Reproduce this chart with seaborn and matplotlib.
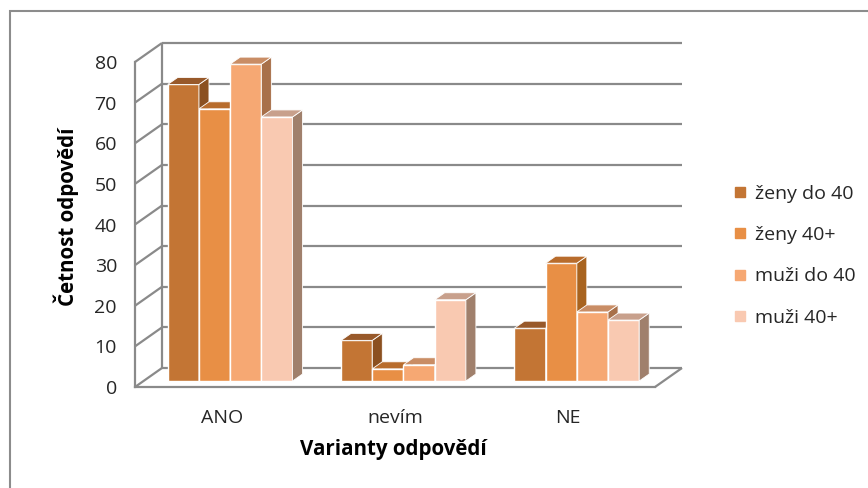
import numpy as np
import pandas as pd
import matplotlib
matplotlib.use("Agg")
import matplotlib.pyplot as plt
import seaborn as sns
from matplotlib.patches import Polygon, Rectangle
from matplotlib.lines import Line2D

# ==========================================
# Data
# ==========================================
categories = ["ANO", "nevím", "NE"]
groups = ["ženy do 40", "ženy 40+", "muži do 40", "muži 40+"]
zeny_do_40 = [73, 10, 13]
zeny_40_plus = [67, 3, 29]
muzi_do_40 = [78, 4, 17]
muzi_40_plus = [65, 20, 15]
y_ticks = [0, 10, 20, 30, 40, 50, 60, 70, 80]

palette = ["#C37534", "#E88F45", "#F6A873", "#F9C9B1"]
side_cols = ["#8B5020", "#A8631F", "#A8704A", "#A0806C"]
top_cols = ["#98592A", "#B86C2C", "#C98D65", "#C8A08C"]
grid_col = "#8a8a8a"
text_col = "#262626"

series = [zeny_do_40, zeny_40_plus, muzi_do_40, muzi_40_plus]
df = pd.DataFrame({
    "odpoved": categories * len(groups),
    "skupina": [g for g in groups for _ in categories],
    "cetnost": [v for s in series for v in s],
})

sns.set_theme(style="white")
plt.rcParams["font.family"] = ["Open Sans", "DejaVu Sans"]

W, H = 868, 488
fig = plt.figure(figsize=(W / 100, H / 100), dpi=100)
ax = fig.add_axes([135 / W, 1 - 387 / H, 520 / W, 325 / H])

sns.barplot(data=df, x="odpoved", y="cetnost", hue="skupina", order=categories,
            hue_order=groups, palette=palette, saturation=1, width=0.72,
            edgecolor="white", linewidth=1.0, legend=False, ax=ax)

ax.set_xlim(-0.5, 2.5)
ax.set_ylim(0, 80)
ax.set_yticks(y_ticks)

# pixel -> data conversions for the fake 3D depth
ppx = 520 / 3.0
ppy = 325 / 80.0
sx, sy = 8.5 / ppx, 6 / ppy      # bars sit a bit behind the front plane
dx, dy = 10 / ppx, 7 / ppy       # bar depth
bx, by = 27 / ppx, 19 / ppy      # back wall offset

# --- walls and gridlines ---
kw = dict(color=grid_col, lw=1.6, clip_on=False, zorder=1, solid_capstyle="butt")
for v in y_ticks:
    ax.plot([-0.5 + bx, 2.5 + bx], [v + by, v + by], **kw)
    ax.plot([-0.5, -0.5 + bx], [v, v + by], **kw)
ax.plot([-0.5 + bx, -0.5 + bx], [by, 80 + by], **kw)
ax.plot([2.5, 2.5 + bx], [0, by], **kw)

# --- 3D bars: shift fronts, add side and top faces ---
bars = sorted(ax.patches, key=lambda p: p.get_x())
n_cat = len(categories)
for i, p in enumerate(bars):
    hue_idx = ax.patches.index(p) // n_cat
    x, w, h = p.get_x(), p.get_width(), p.get_height()
    p.set_x(x + sx)
    p.set_y(sy)
    p.set_clip_on(False)
    p.set_zorder(3 + 3 * i)
    x0 = x + sx
    side = Polygon([(x0 + w, sy), (x0 + w + dx, sy + dy), (x0 + w + dx, sy + h + dy), (x0 + w, sy + h)],
                   closed=True, facecolor=side_cols[hue_idx], edgecolor="white", lw=0.6,
                   clip_on=False, zorder=3 + 3 * i + 1)
    top = Polygon([(x0, sy + h), (x0 + dx, sy + h + dy), (x0 + w + dx, sy + h + dy), (x0 + w, sy + h)],
                  closed=True, facecolor=top_cols[hue_idx], edgecolor="white", lw=0.6,
                  clip_on=False, zorder=3 + 3 * i + 2)
    ax.add_patch(side)
    ax.add_patch(top)

# --- axes styling ---
for s in ["top", "right"]:
    ax.spines[s].set_visible(False)
for s in ["left", "bottom"]:
    ax.spines[s].set_color(grid_col)
    ax.spines[s].set_linewidth(1.6)
ax.tick_params(axis="y", direction="out", length=6, width=1.6, color=grid_col,
               labelsize=14, pad=7, labelcolor=text_col)
ax.tick_params(axis="x", length=0, labelsize=14, pad=16, labelcolor=text_col)

ax.set_xlabel("Varianty odpovědí", fontsize=14.8, fontweight="bold", color="black")
ax.set_ylabel("Četnost odpovědí", fontsize=14.8, fontweight="bold", color="black")
ax.xaxis.set_label_coords(0.496, -0.16)
ax.yaxis.set_label_coords(-0.108, 0.525)

# --- legend ---
handles = [Line2D([0], [0], marker="s", linestyle="none", markersize=7.5,
                  markerfacecolor=c, markeredgecolor=c) for c in palette]
leg = fig.legend(handles, groups, loc="upper left", bbox_to_anchor=(724 / W, 1 - 177 / H),
                 frameon=False, fontsize=14, labelspacing=1.2, handlelength=0.8,
                 handletextpad=0.4, borderaxespad=0)
for t in leg.get_texts():
    t.set_color(text_col)

# outer chart border
fig.patches.append(Rectangle((10 / W, -0.1), 1.2, 1 - 11 / H + 0.1, transform=fig.transFigure,
                             fill=False, edgecolor="#8c8c8c", lw=1.5, zorder=0))

fig.savefig("out.png", dpi=100)
